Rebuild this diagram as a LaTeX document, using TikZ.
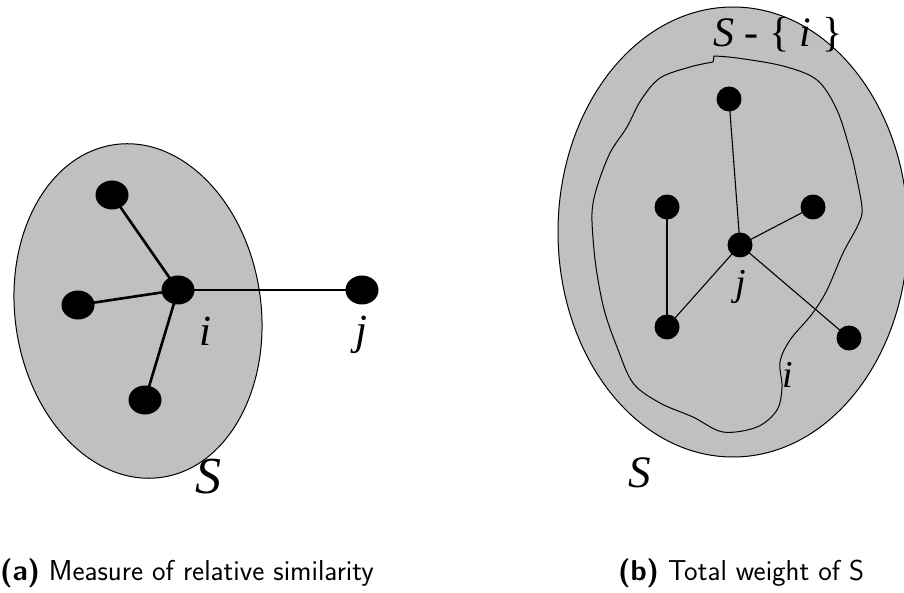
\documentclass[tikz,border=0pt]{standalone}
\usepackage{fontspec}
\newfontfamily\tms{Liberation Serif}
\usetikzlibrary{shapes.geometric}
\definecolor{fillg}{RGB}{192,192,192}
\tikzset{
  bigdot/.style={ellipse,fill=black,draw=none,minimum width=33pt,minimum height=29pt,inner sep=0pt},
  smalldot/.style={circle,fill=black,draw=none,minimum size=25pt,inner sep=0pt},
  thickedge/.style={line width=2.6pt},
  thinedge/.style={line width=1.1pt},
  region/.style={fill=fillg,draw=black,line width=1pt},
  lab/.style={anchor=base,inner sep=0pt},
  captext/.style={anchor=base west,inner sep=0pt,font=\fontsize{28.8}{34}\selectfont\sffamily}
}
\begin{document}
\begin{tikzpicture}[x=1pt,y=-1pt]
\useasboundingbox (0,0) rectangle (904,593);
% ---------- (a) ----------
\draw[region,rotate around={8:(138,311)}] (138,311) ellipse [x radius=123pt,y radius=168pt];
\node[bigdot] (ai) at (178,290) {};
\node[bigdot] (at) at (112,195) {};
\node[bigdot] (al) at (78,305) {};
\node[bigdot] (ab) at (145,400) {};
\node[bigdot] (aj) at (362,290) {};
\draw[thickedge] (ai.center) -- (at.center);
\draw[thickedge] (ai.center) -- (al.center);
\draw[thickedge] (ai.center) -- (ab.center);
\draw[thickedge] (ai.center) -- (aj.center);
\node[lab] (li) at (205,345) {\tms\itshape\fontsize{43}{43}\selectfont i};
\node[lab] (lj) at (361,344) {\tms\itshape\fontsize{43}{43}\selectfont j};
\node[lab] (lS) at (208,493) {\tms\itshape\fontsize{52}{52}\selectfont S};
% ---------- (b) ----------
\draw[region] (733,232) ellipse [x radius=175pt,y radius=225pt];
\draw[line width=1pt] plot[smooth,tension=0.55] coordinates{
 (714,56) (737,58) (783,66) (817,80) (837,110) (850,150) (855,170) (862,208)
 (858,225) (843,253) (827,290) (812,314) (790,340) (780,362) (782,387) (777,410)
 (757,427) (723,432) (693,417) (660,403) (633,383) (617,347) (605,313) (598,280)
 (594,250) (592,213) (597,187) (610,153) (627,127) (641,100) (660,78) (690,67) (713,62)} -- cycle;
\node[smalldot] (bc) at (740,245) {};
\node[smalldot] (bt) at (729,99) {};
\node[smalldot] (bl) at (667,207) {};
\node[smalldot] (br) at (813,207) {};
\node[smalldot] (bbl) at (667,327) {};
\node[smalldot] (bbr) at (849,338) {};
\draw[thinedge] (bc.center) -- (bt.center);
\draw[thinedge] (bc.center) -- (br.center);
\draw[thinedge] (bc.center) -- (bbl.center);
\draw[thinedge] (bc.center) -- (bbr.center);
\draw[thinedge] (bl.center) -- (bbl.center);
\node[lab] (rj) at (741,296) {\tms\itshape\fontsize{38}{38}\selectfont j};
\node[lab] (ri) at (788,387) {\tms\itshape\fontsize{38}{38}\selectfont i};
\node[lab] (rS) at (640,487) {\tms\itshape\fontsize{45}{45}\selectfont S};
\node[anchor=base west,inner sep=0pt] (rSi) at (713,47) {\tms\fontsize{42}{42}\selectfont \textit{S} - \{ \textit{i} \}};
% ---------- captions ----------
\node[captext] (capa) at (0,580) {\textbf{(a)} Measure of relative similarity};
\node[captext] (capb) at (618,580) {\textbf{(b)} Total weight of S};
\end{tikzpicture}
\end{document}
